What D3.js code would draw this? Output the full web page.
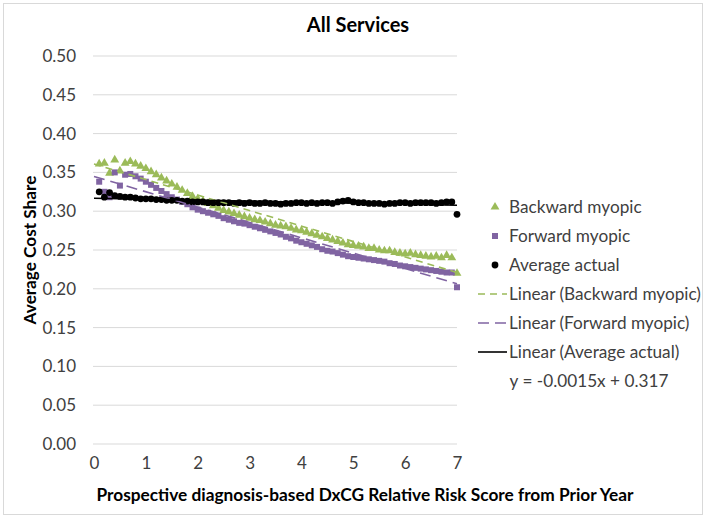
<!DOCTYPE html>
<html><head><meta charset="utf-8">
<script src="https://cdn.jsdelivr.net/npm/d3@7/dist/d3.min.js"></script>
<style>body{margin:0;background:#fff}svg{display:block}text{font-family:Lato,"Open Sans",sans-serif}</style>
</head><body>
<svg id="c" width="707" height="519"></svg>
<script>
const xValues = [0.1,0.2,0.3,0.4,0.5,0.6,0.7,0.8,0.9,1.0,1.1,1.2,1.3,1.4,1.5,1.6,1.7,1.8,1.9,2.0,2.1,2.2,2.3,2.4,2.5,2.6,2.7,2.8,2.9,3.0,3.1,3.2,3.3,3.4,3.5,3.6,3.7,3.8,3.9,4.0,4.1,4.2,4.3,4.4,4.5,4.6,4.7,4.8,4.9,5.0,5.1,5.2,5.3,5.4,5.5,5.6,5.7,5.8,5.9,6.0,6.1,6.2,6.3,6.4,6.5,6.6,6.7,6.8,6.9,7.0];
const backwardMyopic = [0.361,0.362,0.349,0.366,0.352,0.362,0.364,0.361,0.358,0.355,0.351,0.347,0.343,0.339,0.335,0.331,0.327,0.323,0.319,0.316,0.313,0.310,0.307,0.304,0.301,0.299,0.297,0.295,0.293,0.291,0.289,0.288,0.286,0.284,0.282,0.281,0.280,0.278,0.276,0.275,0.273,0.271,0.269,0.267,0.265,0.263,0.261,0.259,0.257,0.256,0.255,0.254,0.252,0.252,0.250,0.249,0.249,0.247,0.246,0.245,0.246,0.244,0.243,0.242,0.241,0.242,0.240,0.243,0.240,0.220];
const forwardMyopic = [0.338,0.325,0.318,0.350,0.333,0.347,0.348,0.345,0.342,0.338,0.334,0.330,0.326,0.322,0.318,0.315,0.312,0.309,0.305,0.302,0.300,0.298,0.296,0.294,0.291,0.289,0.287,0.285,0.284,0.282,0.280,0.278,0.276,0.274,0.272,0.270,0.267,0.265,0.262,0.260,0.258,0.256,0.254,0.251,0.249,0.248,0.246,0.244,0.242,0.241,0.240,0.239,0.238,0.237,0.236,0.235,0.233,0.232,0.230,0.229,0.228,0.227,0.226,0.225,0.224,0.223,0.222,0.221,0.221,0.202];
const averageActual = [0.325,0.318,0.324,0.320,0.319,0.318,0.318,0.317,0.316,0.316,0.316,0.315,0.315,0.314,0.314,0.314,0.313,0.313,0.312,0.312,0.312,0.311,0.311,0.311,0.311,0.311,0.310,0.311,0.310,0.311,0.310,0.310,0.311,0.310,0.310,0.309,0.310,0.310,0.311,0.311,0.310,0.311,0.310,0.311,0.311,0.310,0.312,0.313,0.314,0.312,0.311,0.311,0.310,0.310,0.310,0.309,0.310,0.310,0.311,0.311,0.310,0.311,0.311,0.311,0.311,0.310,0.311,0.312,0.312,0.296];
const yTicks = [0,0.05,0.10,0.15,0.20,0.25,0.30,0.35,0.40,0.45,0.50];
const xTicks = [0,1,2,3,4,5,6,7];
const legendLabels = ["Backward myopic","Forward myopic","Average actual","Linear (Backward myopic)","Linear (Forward myopic)","Linear (Average actual)"];
const equationText = "y = -0.0015x + 0.317";
const titleText = "All Services";
const xTitle = "Prospective diagnosis-based DxCG Relative Risk Score from Prior Year";
const yTitle = "Average Cost Share";

const green = "#9BBB59", purple = "#8064A2", black = "#000000";
const svg = d3.select("#c");
svg.append("rect").attr("x",3.5).attr("y",3.5).attr("width",699).attr("height",511).attr("fill","#fff").attr("stroke","#d9d9d9");

const x = d3.scaleLinear().domain([0,7]).range([94,457]);
const y = d3.scaleLinear().domain([0,0.5]).range([444,56]);

svg.append("g").selectAll("line").data(yTicks).join("line")
  .attr("x1",x(0)-1).attr("x2",x(7)).attr("y1",d=>y(d)).attr("y2",d=>y(d))
  .attr("stroke","#d9d9d9").attr("stroke-width",1);

const yAxis = d3.axisLeft(y).tickValues(yTicks).tickFormat(d3.format(".2f")).tickSize(0).tickPadding(18);
const gy = svg.append("g").attr("transform",`translate(${x(0)},0)`).call(yAxis);
gy.select(".domain").remove();
gy.selectAll("text").attr("font-size",17).attr("fill","#404040").style("font-family","Lato,'Open Sans',sans-serif");
const xAxis = d3.axisBottom(x).tickValues(xTicks).tickFormat(d3.format("d")).tickSize(0).tickPadding(13);
const gx = svg.append("g").attr("transform",`translate(0,${y(0)})`).call(xAxis);
gx.select(".domain").remove();
gx.selectAll("text").attr("font-size",17).attr("fill","#404040").style("font-family","Lato,'Open Sans',sans-serif");

function regress(xs, ys){
  const n=xs.length, mx=d3.mean(xs), my=d3.mean(ys);
  let sxy=0,sxx=0; for(let i=0;i<n;i++){sxy+=(xs[i]-mx)*(ys[i]-my); sxx+=(xs[i]-mx)**2;}
  const b=sxy/sxx; return {b, a:my-b*mx};
}
const series = [
  {vals:backwardMyopic, color:green, shape:d3.symbolTriangle, size:34, dash:"7,5"},
  {vals:forwardMyopic, color:purple, shape:d3.symbolSquare, size:36, dash:"11,6"},
  {vals:averageActual, color:black, shape:d3.symbolCircle, size:36, dash:null}
];
const pts = svg.append("g");
series.forEach(s=>{
  pts.append("g").selectAll("path").data(xValues.map((xv,i)=>[xv,s.vals[i]])).join("path")
    .attr("d", d3.symbol().type(s.shape).size(s.size))
    .attr("transform", d=>`translate(${x(d[0])},${y(d[1])})`)
    .attr("fill", s.color);
});
const lines = svg.append("g");
series.forEach(s=>{
  const r = regress(xValues, s.vals);
  const x0 = 0, x1 = 7;
  lines.append("line").attr("x1",x(x0)).attr("x2",x(x1))
    .attr("y1",y(r.a+r.b*x0)).attr("y2",y(r.a+r.b*x1))
    .attr("stroke",s.color).attr("stroke-width",1.6)
    .attr("stroke-dasharray",s.dash);
});

svg.append("text").attr("x",358).attr("y",32).attr("text-anchor","middle").attr("font-size",20).attr("font-weight","bold").attr("fill","#000").text(titleText);
svg.append("text").attr("x",365).attr("y",501).attr("text-anchor","middle").attr("font-size",17.3).attr("font-weight","bold").attr("fill","#000").text(xTitle);
svg.append("text").attr("transform","translate(36,250) rotate(-90)").attr("text-anchor","middle").attr("font-size",17.2).attr("font-weight","bold").attr("fill","#000").text(yTitle);

const lg = svg.append("g");
const rowY = [207,236,265,294,323,352];
series.forEach((s,i)=>{
  lg.append("path").attr("d",d3.symbol().type(s.shape).size(s.size)).attr("transform",`translate(495,${rowY[i]})`).attr("fill",s.color);
  lg.append("line").attr("x1",478).attr("x2",507).attr("y1",rowY[i+3]).attr("y2",rowY[i+3])
    .attr("stroke",s.color).attr("stroke-width",1.6).attr("stroke-dasharray",s.dash);
});
legendLabels.forEach((t,i)=>{
  lg.append("text").attr("x",509).attr("y",rowY[i]+6).attr("font-size",17.2).attr("fill","#404040").text(t);
});
lg.append("text").attr("x",589).attr("y",387).attr("text-anchor","middle").attr("font-size",17.2).attr("fill","#404040").text(equationText);
</script>
</body></html>
